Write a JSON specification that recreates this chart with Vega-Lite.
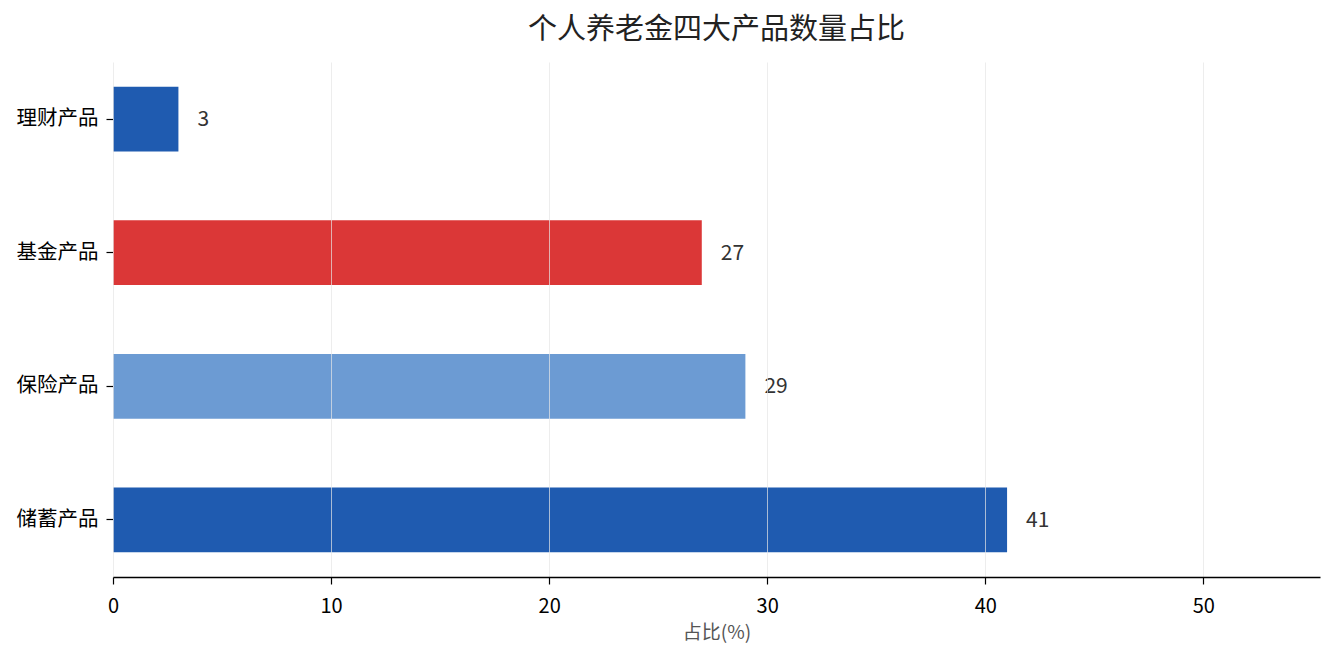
{
  "$schema": "https://vega.github.io/schema/vega-lite/v6.json",
  "width": 1207,
  "height": 515,
  "autosize": {"type": "none"},
  "padding": {"left": 113, "top": 62, "right": 15, "bottom": 83},
  "background": "white",
  "title": {
    "text": "个人养老金四大产品数量占比",
    "font": "Noto Sans CJK SC",
    "fontSize": 29,
    "fontWeight": "normal",
    "color": "#222222",
    "anchor": "middle",
    "offset": 17
  },
  "data": {
    "values": [
      {"product": "理财产品", "share": 3},
      {"product": "基金产品", "share": 27},
      {"product": "保险产品", "share": 29},
      {"product": "储蓄产品", "share": 41}
    ]
  },
  "encoding": {
    "y": {
      "field": "product",
      "type": "nominal",
      "sort": ["理财产品", "基金产品", "保险产品", "储蓄产品"],
      "scale": {"paddingInner": 0.515, "paddingOuter": 0.185},
      "axis": {
        "title": null,
        "domain": false,
        "ticks": true,
        "tickColor": "#000000",
        "tickSize": 7,
        "tickWidth": 1.2,
        "labelFont": "Noto Sans CJK SC",
        "labelFontSize": 20.5,
        "labelColor": "#000000",
        "labelPadding": 8
      }
    },
    "x": {
      "field": "share",
      "type": "quantitative",
      "scale": {"domain": [0, 55.35], "nice": false},
      "axis": {
        "title": "占比(%)",
        "values": [0, 10, 20, 30, 40, 50],
        "grid": true,
        "gridColor": "#e6e6e6",
        "gridOpacity": 0.7,
        "zindex": 1,
        "domainColor": "#000000",
        "domainWidth": 1.5,
        "tickColor": "#000000",
        "tickSize": 7,
        "tickWidth": 1.2,
        "labelFlush": false,
        "labelFont": "Noto Sans CJK SC",
        "labelFontSize": 20,
        "labelColor": "#000000",
        "labelPadding": 12,
        "titleFont": "Noto Sans CJK SC",
        "titleFontSize": 19,
        "titleFontWeight": "normal",
        "titleColor": "#555555",
        "titlePadding": 7
      }
    }
  },
  "layer": [
    {
      "mark": {"type": "bar"},
      "encoding": {
        "color": {
          "field": "product",
          "type": "nominal",
          "scale": {
            "domain": ["理财产品", "基金产品", "保险产品", "储蓄产品"],
            "range": ["#1f5bb0", "#db3737", "#6c9bd3", "#1f5bb0"]
          },
          "legend": null
        }
      }
    },
    {
      "mark": {
        "type": "text",
        "align": "left",
        "baseline": "middle",
        "dx": 19,
        "dy": 1,
        "font": "Noto Sans CJK SC",
        "fontSize": 21,
        "color": "#333333"
      },
      "encoding": {"text": {"field": "share", "type": "quantitative"}}
    }
  ],
  "config": {"view": {"stroke": null}}
}
